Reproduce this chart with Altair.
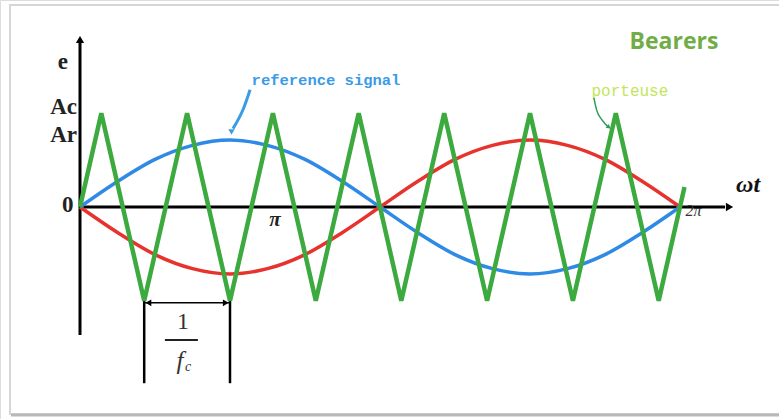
import altair as alt
import pandas as pd

# Phase axis in units of pi (0 .. 2 covers one period of the reference)
ref_u = [0, 0.125, 0.25, 0.375, 0.5, 0.625, 0.75, 0.875, 1.0,
         1.125, 1.25, 1.375, 1.5, 1.625, 1.75, 1.875, 2.0]
ref_blue = [0, 0.38, 0.71, 0.92, 1.0, 0.92, 0.71, 0.38, 0,
            -0.38, -0.71, -0.92, -1.0, -0.92, -0.71, -0.38, 0]
ref_red = [0, -0.38, -0.71, -0.92, -1.0, -0.92, -0.71, -0.38, 0,
           0.38, 0.71, 0.92, 1.0, 0.92, 0.71, 0.38, 0]

# Triangular carrier (porteuse) vertices
car_u = [0, 0.071, 0.214, 0.357, 0.5, 0.643, 0.786, 0.929, 1.071,
         1.214, 1.357, 1.5, 1.643, 1.786, 1.929, 2.015]
car_e = [0, 1.4, -1.4, 1.4, -1.4, 1.4, -1.4, 1.4, -1.4,
         1.4, -1.4, 1.4, -1.4, 1.4, -1.4, 0.3]

W, H = 779, 419
X_DOM = [-80 / 300, (W - 80) / 300]
Y_DOM = [-(H - 207) / 67, 207 / 67]

xs = alt.Scale(domain=X_DOM, range=[0, W], nice=False, zero=False)
ys = alt.Scale(domain=Y_DOM, range=[H, 0], nice=False, zero=False)


def X(field="u"):
    return alt.X(f"{field}:Q", scale=xs, axis=None)


def Y(field="e"):
    return alt.Y(f"{field}:Q", scale=ys, axis=None)


blue_df = pd.DataFrame({"u": ref_u, "e": ref_blue})
red_df = pd.DataFrame({"u": ref_u, "e": ref_red})
car_df = pd.DataFrame({"u": car_u, "e": car_e})

# Picture frame
frame = alt.Chart(pd.DataFrame({"a": [0]})).mark_rect(
    fill="white", stroke="#d6d6d6", strokeWidth=2
).encode(x=alt.value(10), x2=alt.value(800), y=alt.value(5), y2=alt.value(414))
shadow = alt.Chart(pd.DataFrame({"a": [0]})).mark_rule(
    color="#b9b9b9", strokeWidth=3
).encode(x=alt.value(11), x2=alt.value(779), y=alt.value(415))

# Axes
yaxis = alt.Chart(pd.DataFrame({"u": [0, 0], "e": [-1.91, 2.45]})).mark_line(
    color="black", strokeWidth=3
).encode(x=X(), y=Y())
xaxis = alt.Chart(pd.DataFrame({"u": [0, 2.15], "e": [0, 0]})).mark_line(
    color="black", strokeWidth=3
).encode(x=X(), y=Y())
yhead = alt.Chart(pd.DataFrame({"u": [0], "e": [2.5]})).mark_point(
    shape="triangle-up", filled=True, color="black", size=70, opacity=1
).encode(x=X(), y=Y())
xhead = alt.Chart(pd.DataFrame({"u": [2.165], "e": [0]})).mark_point(
    shape="triangle-right", filled=True, color="black", size=70, opacity=1
).encode(x=X(), y=Y())

# Signals
blue = alt.Chart(blue_df).mark_line(
    color="#2e8ae4", strokeWidth=3.5, interpolate="monotone"
).encode(x=X(), y=Y())
red = alt.Chart(red_df).mark_line(
    color="#e6332d", strokeWidth=3.5, interpolate="monotone"
).encode(x=X(), y=Y())
carrier = alt.Chart(car_df).mark_line(
    color="#3caa3f", strokeWidth=4.5, strokeJoin="miter"
).encode(x=X(), y=Y())

# Period bracket 1/fc
br_u = [0.214, 0.5]
bracket_v = alt.Chart(pd.DataFrame({"u": br_u, "e": [-1.4, -1.4], "e2": [-2.63, -2.63]})).mark_rule(
    color="black", strokeWidth=2.5
).encode(x=X(), y=Y(), y2="e2:Q")
bracket_h = alt.Chart(pd.DataFrame({"u": br_u, "e": [-1.43, -1.43]})).mark_line(
    color="black", strokeWidth=1.5
).encode(x=X(), y=Y())
bracket_heads = alt.Chart(pd.DataFrame({"u": [0.228, 0.486], "e": [-1.43, -1.43],
                                        "s": ["triangle-left", "triangle-right"]})).mark_point(
    filled=True, color="black", size=45, opacity=1
).encode(x=X(), y=Y(), shape=alt.Shape("s:N", scale=None, legend=None))
frac_line = alt.Chart(pd.DataFrame({"u": [0.283, 0.393], "e": [-1.985, -1.985]})).mark_line(
    color="#222222", strokeWidth=1.8
).encode(x=X(), y=Y())

serif = "Liberation Serif"
labels = pd.DataFrame({
    "u": [-0.04, -0.01, -0.01, -0.022],
    "e": [2.16, 1.49, 1.07, 0.03],
    "t": ["e", "Ac", "Ar", "0"],
})
axis_labels = alt.Chart(labels).mark_text(
    font=serif, fontSize=23, fontWeight="bold", color="#222222", align="right", baseline="middle"
).encode(x=X(), y=Y(), text="t:N")
pi_label = alt.Chart(pd.DataFrame({"u": [0.65], "e": [-0.19], "t": ["π"]})).mark_text(
    font=serif, fontSize=21, fontStyle="italic", fontWeight="bold", color="#222222", baseline="middle"
).encode(x=X(), y=Y(), text="t:N")
one_label = alt.Chart(pd.DataFrame({"u": [0.343], "e": [-1.72], "t": ["1"]})).mark_text(
    font=serif, fontSize=24, color="#333333", baseline="middle"
).encode(x=X(), y=Y(), text="t:N")
fc_label = alt.Chart(pd.DataFrame({"u": [0.333, 0.36], "e": [-2.3, -2.39], "t": ["f", "c"],
                                   "s": [25, 14]})).mark_text(
    font=serif, fontStyle="italic", color="#333333", baseline="middle"
).encode(x=X(), y=Y(), text="t:N", size=alt.Size("s:Q", scale=None, legend=None))
wt_label = alt.Chart(pd.DataFrame({"u": [2.227], "e": [0.33], "t": ["ωt"]})).mark_text(
    font=serif, fontSize=24, fontStyle="italic", fontWeight="bold", color="#111111", baseline="middle"
).encode(x=X(), y=Y(), text="t:N")
twopi_label = alt.Chart(pd.DataFrame({"u": [2.045], "e": [-0.06], "t": ["2π"]})).mark_text(
    font=serif, fontSize=16, fontStyle="italic", color="#333333", baseline="middle"
).encode(x=X(), y=Y(), text="t:N")

# Handwritten annotations
ref_text = alt.Chart(pd.DataFrame({"u": [0.82], "e": [1.9], "t": ["reference signal"]})).mark_text(
    font="Liberation Mono", fontSize=15.5, fontWeight="bold", color="#3a9be6", baseline="middle"
).encode(x=X(), y=Y(), text="t:N")
ref_arrow = alt.Chart(pd.DataFrame({"u": [0.567, 0.545, 0.51], "e": [1.75, 1.47, 1.17]})).mark_line(
    color="#3a9be6", strokeWidth=3, interpolate="monotone"
).encode(x=X(), y=Y())
ref_head = alt.Chart(pd.DataFrame({"u": [0.505], "e": [1.12]})).mark_point(
    shape="triangle-down", filled=True, color="#3a9be6", size=40, opacity=1
).encode(x=X(), y=Y())

por_text = alt.Chart(pd.DataFrame({"u": [1.833], "e": [1.73], "t": ["porteuse"]})).mark_text(
    font="Liberation Mono", fontSize=16, color="#c2e55a", baseline="middle"
).encode(x=X(), y=Y(), text="t:N")
por_arrow = alt.Chart(pd.DataFrame({"u": [1.713, 1.722, 1.74, 1.76], "e": [1.63, 1.45, 1.3, 1.2]})).mark_line(
    color="#2f9a5a", strokeWidth=1.5, interpolate="monotone"
).encode(x=X(), y=Y())
por_head = alt.Chart(pd.DataFrame({"u": [1.763], "e": [1.19]})).mark_point(
    shape="triangle-right", filled=True, color="#2f9a5a", size=25, opacity=1, angle=40
).encode(x=X(), y=Y())

title = alt.Chart(pd.DataFrame({"u": [1.98], "e": [2.46], "t": ["Bearers"]})).mark_text(
    font="Open Sans", fontSize=23, fontWeight="bold", color="#70ad47", baseline="middle"
).encode(x=X(), y=Y(), text="t:N")

chart = alt.layer(
    frame, shadow,
    yaxis, xaxis, yhead, xhead,
    bracket_v, bracket_h, bracket_heads, frac_line,
    red, blue, carrier,
    axis_labels, pi_label, one_label, fc_label, wt_label, twopi_label,
    ref_text, ref_arrow, ref_head, por_text, por_arrow, por_head, title,
).properties(
    width=W, height=H, padding=0, autosize=alt.AutoSizeParams(type="none")
).configure_view(stroke=None).configure(background="white")

chart.save("out.html", embed_options={"renderer": "svg", "actions": False})
